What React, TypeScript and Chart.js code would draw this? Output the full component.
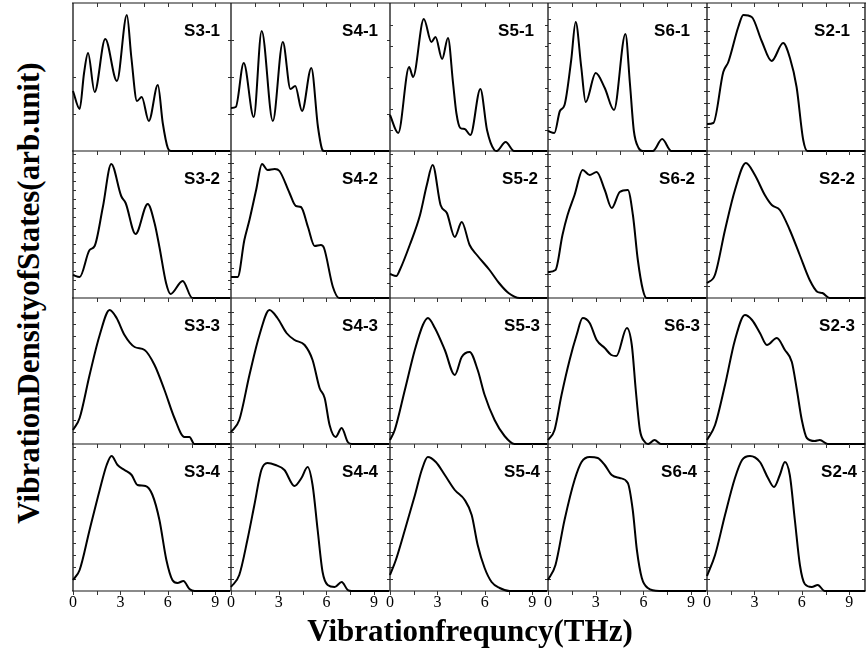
import React, { useEffect, useRef } from 'react';
import { Chart, registerables } from 'chart.js';

Chart.register(...registerables);

type Pt = [number, number];

// x: vibration frequency (THz); y: density of states (arb. unit)
const FREQ_MIN = 0;
const FREQ_MAX = 10;
const FREQ_MINOR_STEP = 1.5;
const FREQ_LABELS = [0, 3, 6, 9];

const S3_1: Pt[] = [[0,60],[0.42,42],[0.7,78],[0.95,98],[1.37,59],[2.04,112],[2.78,70],[3.41,136],[3.69,94],[4.05,50],[4.35,54],[4.8,30],[5.37,66],[5.68,28],[6.0,3],[6.2,0],[10,0]];
const S4_1: Pt[] = [[0,43],[0.3,44],[0.8,88],[1.43,34],[1.93,120],[2.63,30],[3.26,109],[3.74,62],[4.04,65],[4.47,40],[5.05,83],[5.47,24],[5.75,1],[5.85,0],[10,0]];
const S5_1: Pt[] = [[0,36],[0.52,18],[1.21,84],[1.46,74],[2.14,132],[2.62,109],[2.88,114],[3.3,92],[3.67,113],[3.99,68],[4.2,38],[4.45,23],[4.73,22],[5.09,16],[5.72,62],[6.14,21],[6.6,1],[6.75,0],[7.32,9],[7.85,0],[10,0]];
const S6_1: Pt[] = [[0,20],[0.4,18],[0.75,40],[1.04,46],[1.46,91],[1.74,129],[2.09,84],[2.37,49],[3.0,78],[3.57,63],[4.15,41],[4.87,117],[5.15,68],[5.4,20],[5.7,3],[5.95,0],[6.6,0],[7.18,12],[7.75,0],[10,0]];
const S2_1: Pt[] = [[0,27],[0.4,28],[1.03,79],[1.35,89],[1.98,124],[2.3,136],[2.83,134],[3.46,110],[4.09,90],[4.82,108],[5.25,93],[5.67,64],[6.09,11],[6.35,0],[10,0]];

const S3_2: Pt[] = [[0,23],[0.42,21],[1.05,48],[1.37,52],[1.89,91],[2.42,134],[3.05,102],[3.33,95],[3.96,64],[4.73,94],[5.16,75],[5.47,51],[5.89,15],[6.17,4],[6.94,17],[7.55,0],[10,0]];
const S4_2: Pt[] = [[0,21],[0.42,21],[0.84,58],[1.16,78],[1.58,108],[1.95,134],[2.3,128],[2.75,129],[3.05,127],[3.68,105],[4.08,92],[4.4,91],[4.84,71],[5.26,52],[5.65,53],[5.85,50],[6.41,11],[6.8,0],[10,0]];
const S5_2: Pt[] = [[0,24],[0.4,22],[0.62,28],[1.25,53],[1.9,83],[2.33,113],[2.7,133],[3.2,93],[3.6,85],[4.1,61],[4.54,76],[5.04,53],[5.5,43],[6.3,28],[6.9,15],[7.5,5],[8.2,0],[10,0]];
const S6_2: Pt[] = [[0,26],[0.47,28],[0.91,63],[1.23,83],[1.67,103],[2.18,128],[2.62,123],[3.06,126],[3.57,108],[4.01,90],[4.51,106],[5.02,108],[5.34,83],[5.65,38],[5.97,8],[6.2,0],[10,0]];
const S2_2: Pt[] = [[0,15],[0.5,23],[1.14,68],[1.77,108],[2.46,135],[3.03,123],[3.66,103],[4.1,93],[4.61,88],[5.24,68],[5.87,43],[6.5,18],[7.0,6],[7.3,5],[7.76,0],[10,0]];

const S3_3: Pt[] = [[0,14],[0.42,26],[1.05,69],[1.69,109],[2.32,134],[2.76,126],[3.26,109],[3.9,97],[4.53,94],[5.16,79],[5.79,54],[6.42,26],[7.05,7],[7.37,7],[7.68,0],[10,0]];
const S4_3: Pt[] = [[0,12],[0.52,24],[1.16,69],[1.79,109],[2.42,134],[2.92,126],[3.49,111],[4.0,104],[4.63,99],[5.13,84],[5.57,56],[5.89,46],[6.2,19],[6.58,7],[6.96,16],[7.34,2],[7.6,0],[10,0]];
const S5_3: Pt[] = [[0,4],[0.3,14],[0.94,54],[1.57,94],[2.08,119],[2.4,126],[2.84,116],[3.47,94],[4.1,69],[4.54,87],[5.04,92],[5.55,74],[5.99,49],[6.62,24],[7.25,8],[7.88,0],[10,0]];
const S6_3: Pt[] = [[0,4],[0.41,14],[0.85,49],[1.36,84],[1.8,109],[2.18,126],[2.62,121],[3.06,104],[3.57,96],[3.98,89],[4.3,88],[4.96,116],[5.27,99],[5.52,54],[5.78,14],[6.09,2],[6.3,0],[6.7,4],[7.1,0],[10,0]];
const S2_3: Pt[] = [[0,4],[0.51,19],[1.14,59],[1.77,104],[2.4,129],[2.85,124],[3.35,111],[3.79,99],[4.42,106],[4.93,94],[5.37,82],[5.69,54],[6.0,24],[6.32,6],[6.82,3],[7.14,4],[7.64,0],[10,0]];

const S3_4: Pt[] = [[0,11],[0.42,21],[1.05,61],[1.69,101],[2.13,126],[2.44,135],[2.82,126],[3.26,121],[3.71,116],[4.08,106],[4.59,105],[5.03,96],[5.47,71],[5.91,31],[6.29,11],[6.61,8],[6.99,10],[7.37,2],[7.7,0],[10,0]];
const S4_4: Pt[] = [[0,4],[0.52,16],[1.03,51],[1.47,86],[1.91,121],[2.29,128],[2.8,126],[3.36,121],[3.99,105],[4.43,113],[4.82,124],[5.13,106],[5.45,61],[5.76,19],[6.08,6],[6.52,4],[6.96,9],[7.34,1],[7.6,0],[10,0]];
const S5_4: Pt[] = [[0,16],[0.37,31],[0.94,61],[1.58,96],[2.01,121],[2.39,134],[2.9,129],[3.47,116],[4.1,101],[4.73,91],[5.17,76],[5.55,46],[5.99,23],[6.43,9],[6.94,3],[7.57,0],[10,0]];
const S6_4: Pt[] = [[0,11],[0.47,26],[1.04,71],[1.67,111],[2.11,129],[2.62,134],[3.13,133],[3.57,126],[4.01,116],[4.51,113],[5.02,108],[5.33,81],[5.59,41],[5.9,13],[6.28,3],[7.0,0],[10,0]];
const S2_4: Pt[] = [[0,15],[0.51,36],[1.14,76],[1.77,113],[2.22,131],[2.72,135],[3.35,129],[3.86,113],[4.24,104],[4.61,116],[4.93,129],[5.24,116],[5.56,71],[5.88,26],[6.19,7],[6.63,4],[7.01,6],[7.45,0],[10,0]];

const PANEL_NAMES: string[][] = [
  ['S3-1', 'S4-1', 'S5-1', 'S6-1', 'S2-1'],
  ['S3-2', 'S4-2', 'S5-2', 'S6-2', 'S2-2'],
  ['S3-3', 'S4-3', 'S5-3', 'S6-3', 'S2-3'],
  ['S3-4', 'S4-4', 'S5-4', 'S6-4', 'S2-4'],
];
const PANEL_SERIES: Pt[][][] = [
  [S3_1, S4_1, S5_1, S6_1, S2_1],
  [S3_2, S4_2, S5_2, S6_2, S2_2],
  [S3_3, S4_3, S5_3, S6_3, S2_3],
  [S3_4, S4_4, S5_4, S6_4, S2_4],
];
const Y_TICK_STEP: number[][] = [
  [37, 37, 21, 12, 12],
  [9, 15, 12, 12, 12],
  [12, 12, 12, 12, 12],
  [12, 12, 12, 12, 12],
];

const X_TITLE = 'Vibrationfrequncy(THz)';
const Y_TITLE = 'VibrationDensityofStates(arb.unit)';

// layout (page pixels)
const COL_EDGES = [73, 231, 390, 548, 707, 865];
const ROW_EDGES = [3, 151, 298, 444, 591];
const LABEL_RIGHT = [
  [11, 12, 14, 17, 15],
  [11, 12, 10, 12, 10],
  [11, 12, 8, 7, 10],
  [11, 12, 8, 10, 8],
];
const PAD = 10;
const LABEL_H = 26;

function Panel({ r, c }: { r: number; c: number }) {
  const ref = useRef<HTMLCanvasElement>(null);
  const left = COL_EDGES[c];
  const right = COL_EDGES[c + 1];
  const top = ROW_EDGES[r];
  const bottom = ROW_EDGES[r + 1];
  const w = right - left;
  const h = bottom - top;
  const isTop = r === 0;
  const isBottom = r === ROW_EDGES.length - 2;
  const isLastCol = c === COL_EDGES.length - 2;
  const cw = w + 2 * PAD;
  const ch = h + 2 * PAD + (isBottom ? LABEL_H : 0);

  useEffect(() => {
    if (!ref.current) return;
    const series = PANEL_SERIES[r][c];
    const name = PANEL_NAMES[r][c];
    const yStep = Y_TICK_STEP[r][c];

    const framePlugin = {
      id: 'panelFrame',
      beforeDatasetsDraw(chart: any) {
        const { ctx, chartArea: a, scales } = chart;
        const xs = scales.x;
        const ys = scales.y;
        ctx.save();
        // horizontal borders
        ctx.strokeStyle = '#8a8a8a';
        ctx.lineWidth = 2;
        ctx.beginPath();
        if (isTop) {
          ctx.moveTo(a.left - 1, a.top);
          ctx.lineTo(a.right + 1, a.top);
        }
        ctx.moveTo(a.left - 1, a.bottom);
        ctx.lineTo(a.right + 1, a.bottom);
        ctx.stroke();
        // vertical borders
        ctx.strokeStyle = '#111';
        ctx.lineWidth = 1.3;
        ctx.beginPath();
        ctx.moveTo(a.left, a.top);
        ctx.lineTo(a.left, a.bottom);
        if (isLastCol) {
          ctx.moveTo(a.right, a.top);
          ctx.lineTo(a.right, a.bottom);
        }
        ctx.stroke();
        // ticks
        ctx.strokeStyle = '#333';
        ctx.lineWidth = 1;
        ctx.beginPath();
        for (let v = FREQ_MIN + FREQ_MINOR_STEP; v < FREQ_MAX - 0.01; v += FREQ_MINOR_STEP) {
          const px = Math.round(xs.getPixelForValue(v)) + 0.5;
          ctx.moveTo(px, a.top);
          ctx.lineTo(px, a.top + 4);
          if (isBottom) {
            ctx.moveTo(px, a.bottom);
            ctx.lineTo(px, a.bottom + 4);
          }
        }
        if (isBottom) {
          const px0 = Math.round(xs.getPixelForValue(FREQ_MIN)) + 0.5;
          ctx.moveTo(px0, a.bottom);
          ctx.lineTo(px0, a.bottom + 4);
        }
        for (let v = yStep; v < ys.max - 2; v += yStep) {
          const py = Math.round(ys.getPixelForValue(v)) + 0.5;
          ctx.moveTo(a.left, py);
          ctx.lineTo(a.left + 3, py);
          ctx.moveTo(a.right, py);
          ctx.lineTo(a.right - 3, py);
        }
        ctx.stroke();
        ctx.restore();
      },
      afterDatasetsDraw(chart: any) {
        const { ctx, chartArea: a } = chart;
        ctx.save();
        ctx.fillStyle = '#000';
        ctx.font = 'bold 17px "Liberation Sans", Arial, sans-serif';
        ctx.textAlign = 'right';
        ctx.textBaseline = 'alphabetic';
        ctx.fillText(name, a.right - LABEL_RIGHT[r][c], a.top + 33);
        ctx.restore();
      },
    };

    const chart = new Chart(ref.current, {
      type: 'line',
      data: {
        datasets: [
          {
            label: name,
            data: series.map(([x, y]) => ({ x, y })),
            borderColor: '#000',
            borderWidth: 2,
            pointRadius: 0,
            fill: false,
            tension: 0.4,
            cubicInterpolationMode: 'monotone',
            clip: false as any,
          },
        ],
      },
      options: {
        animation: false,
        responsive: false,
        maintainAspectRatio: false,
        events: [],
        layout: {
          autoPadding: false,
          padding: { left: PAD, right: PAD, top: PAD, bottom: PAD },
        },
        plugins: { legend: { display: false }, tooltip: { enabled: false }, title: { display: false } },
        scales: {
          x: {
            type: 'linear',
            min: FREQ_MIN,
            max: FREQ_MAX,
            display: isBottom,
            position: 'bottom',
            grid: { display: false, drawTicks: false },
            border: { display: false },
            afterBuildTicks: (axis: any) => {
              axis.ticks = FREQ_LABELS.map((v) => ({ value: v }));
            },
            afterFit: (axis: any) => {
              axis.height = isBottom ? LABEL_H : 0;
            },
            ticks: {
              autoSkip: false,
              maxRotation: 0,
              minRotation: 0,
              padding: 2,
              color: '#000',
              font: { family: '"Liberation Serif", "Times New Roman", serif', size: 16 },
              callback: (v: any) => String(v),
            },
          },
          y: {
            type: 'linear',
            min: 0,
            max: h,
            display: false,
            afterFit: (axis: any) => {
              axis.width = 0;
            },
          },
        },
      } as any,
      plugins: [framePlugin],
    });
    return () => chart.destroy();
  }, []);

  return (
    <canvas
      ref={ref}
      width={cw}
      height={ch}
      style={{ position: 'absolute', left: left - PAD, top: top - PAD, width: cw, height: ch }}
    />
  );
}

export default function App() {
  const panels: React.ReactNode[] = [];
  for (let r = 0; r < PANEL_NAMES.length; r++) {
    for (let c = 0; c < PANEL_NAMES[r].length; c++) {
      panels.push(<Panel key={`${r}-${c}`} r={r} c={c} />);
    }
  }
  const titleFont = '"Liberation Serif", "Times New Roman", serif';
  return (
    <div style={{ position: 'absolute', left: 0, top: 0, width: 866, height: 652, background: '#fff', overflow: 'hidden' }}>
      {panels}
      <div
        style={{
          position: 'absolute',
          left: 470,
          top: 615,
          transform: 'translateX(-50%)',
          whiteSpace: 'nowrap',
          fontFamily: titleFont,
          fontWeight: 'bold',
          fontSize: 31,
          lineHeight: '31px',
          color: '#000',
        }}
      >
        {X_TITLE}
      </div>
      <div
        style={{
          position: 'absolute',
          left: 28,
          top: 293,
          transform: 'translate(-50%, -50%) rotate(-90deg)',
          whiteSpace: 'nowrap',
          fontFamily: titleFont,
          fontWeight: 'bold',
          fontSize: 31,
          lineHeight: '31px',
          color: '#000',
        }}
      >
        {Y_TITLE}
      </div>
    </div>
  );
}
